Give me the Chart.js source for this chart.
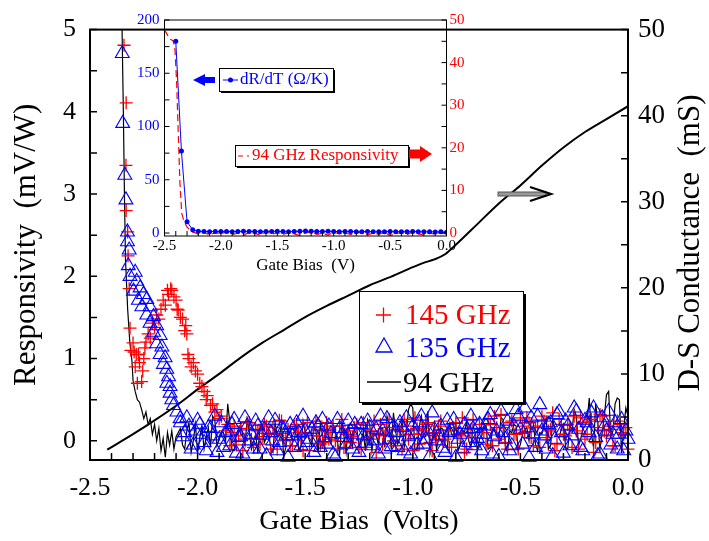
<!DOCTYPE html>
<html>
<head>
<meta charset="utf-8">
<script src="https://cdn.jsdelivr.net/npm/chart.js@4.4.1/dist/chart.umd.min.js"></script>
<style>
  body { margin: 0; background: #fff; }
  #wrap { position: relative; width: 709px; height: 541px; }
  canvas { position: absolute; left: 0; top: 0; }
</style>
</head>
<body>
<div id="wrap">
  <canvas id="mainChart" width="709" height="541"></canvas>
  <canvas id="insetChart" width="709" height="541"></canvas>
</div>
<script>
const red = '#ff0000'
const blue = '#0000ff'

// 145 GHz responsivity, steep part (mV/W)
const bias145 = [-2.342,-2.332,-2.333,-2.332,-2.325,-2.323,-2.318,-2.314,-2.310,-2.300,-2.295,-2.290,-2.285,-2.280,-2.275,-2.270,-2.260,-2.255,-2.250,-2.245,-2.240,-2.230,-2.220,-2.210,-2.200,-2.190,-2.180,-2.170,-2.160,-2.150,-2.140,-2.135,-2.125,-2.120,-2.110,-2.100,-2.095,-2.090,-2.080,-2.070,-2.060,-2.055,-2.050,-2.045,-2.040,-2.030,-2.020,-2.010,-2.000,-1.990,-1.980,-1.970,-1.960,-1.955,-1.940,-1.930,-1.920,-1.910,-1.900,-1.890]
const resp145 = [4.81,4.11,3.35,2.80,2.54,2.25,1.85,1.37,1.10,1.19,1.08,0.90,1.05,0.70,1.05,0.95,0.72,0.85,1.00,1.13,1.20,1.30,1.25,1.43,1.38,1.53,1.48,1.60,1.71,1.65,1.83,1.78,1.85,1.83,1.75,1.71,1.60,1.59,1.50,1.48,1.34,1.40,1.30,1.05,1.00,0.90,0.95,0.85,0.81,0.70,0.66,0.60,0.50,0.55,0.43,0.45,0.35,0.38,0.27,0.30]

// 135 GHz responsivity, steep part
const bias135 = [-2.350,-2.348,-2.338,-2.333,-2.326,-2.326,-2.318,-2.322,-2.314,-2.298,-2.290,-2.283,-2.275,-2.267,-2.259,-2.252,-2.236,-2.236,-2.221,-2.221,-2.205,-2.205,-2.190,-2.190,-2.174,-2.174,-2.166,-2.159,-2.151,-2.143,-2.143,-2.135,-2.128,-2.128,-2.120,-2.112,-2.096,-2.081]
const resp135 = [4.71,3.86,3.23,2.93,2.54,2.42,2.32,2.13,2.00,1.82,2.05,1.94,1.71,1.86,1.63,1.78,1.72,1.53,1.63,1.43,1.51,1.32,1.40,1.18,1.28,1.05,1.14,0.93,1.01,0.87,0.70,0.78,0.66,0.58,0.50,0.43,0.35,0.27]

// 94 GHz responsivity, steep part
const bias94 = [-2.354,-2.351,-2.345,-2.340,-2.335,-2.325,-2.315,-2.305,-2.300,-2.290,-2.280,-2.270,-2.260,-2.250,-2.240,-2.230,-2.220,-2.210,-2.200,-2.190,-2.180,-2.170,-2.160,-2.150,-2.140,-2.130,-2.120,-2.110,-2.100]
const resp94 = [5.30,5.00,4.00,3.00,2.20,1.60,1.20,0.97,0.73,0.60,0.50,0.47,0.38,0.27,0.35,0.20,0.27,0.08,0.20,0.00,0.15,-0.12,0.03,-0.20,0.10,-0.05,0.12,-0.10,0.05]

// flat noisy part, two interleaved bias grids
const noiseBias = [-2.08,-2.06,-2.04,-2.02,-2.00,-1.98,-1.96,-1.94,-1.92,-1.90,
  -1.88,-1.86,-1.84,-1.82,-1.80,-1.78,-1.76,-1.74,-1.72,-1.70,
  -1.68,-1.66,-1.64,-1.62,-1.60,-1.58,-1.56,-1.54,-1.52,-1.50,
  -1.48,-1.46,-1.44,-1.42,-1.40,-1.38,-1.36,-1.34,-1.32,-1.30,
  -1.28,-1.26,-1.24,-1.22,-1.20,-1.18,-1.16,-1.14,-1.12,-1.10,
  -1.08,-1.06,-1.04,-1.02,-1.00,-0.98,-0.96,-0.94,-0.92,-0.90,
  -0.88,-0.86,-0.84,-0.82,-0.80,-0.78,-0.76,-0.74,-0.72,-0.70,
  -0.68,-0.66,-0.64,-0.62,-0.60,-0.58,-0.56,-0.54,-0.52,-0.50,
  -0.48,-0.46,-0.44,-0.42,-0.40,-0.38,-0.36,-0.34,-0.32,-0.30,
  -0.28,-0.26,-0.24,-0.22,-0.20,-0.18,-0.16,-0.14,-0.12,-0.10,
  -0.08,-0.06,-0.04,-0.02,0.00]
const noiseBias2 = [-2.07,-2.05,-2.03,-2.01,-1.99,-1.97,-1.95,-1.93,-1.91,-1.89,
  -1.87,-1.85,-1.83,-1.81,-1.79,-1.77,-1.75,-1.73,-1.71,-1.69,
  -1.67,-1.65,-1.63,-1.61,-1.59,-1.57,-1.55,-1.53,-1.51,-1.49,
  -1.47,-1.45,-1.43,-1.41,-1.39,-1.37,-1.35,-1.33,-1.31,-1.29,
  -1.27,-1.25,-1.23,-1.21,-1.19,-1.17,-1.15,-1.13,-1.11,-1.09,
  -1.07,-1.05,-1.03,-1.01,-0.99,-0.97,-0.95,-0.93,-0.91,-0.89,
  -0.87,-0.85,-0.83,-0.81,-0.79,-0.77,-0.75,-0.73,-0.71,-0.69,
  -0.67,-0.65,-0.63,-0.61,-0.59,-0.57,-0.55,-0.53,-0.51,-0.49,
  -0.47,-0.45,-0.43,-0.41,-0.39,-0.37,-0.35,-0.33,-0.31,-0.29,
  -0.27,-0.25,-0.23,-0.21,-0.19,-0.17,-0.15,-0.13,-0.11,-0.09,
  -0.07,-0.05,-0.03,-0.01]

const noise135 = [0.22,0.10,0.18,-0.05,0.25,0.08,-0.12,0.15,0.30,0.02,
  -0.08,0.12,0.20,-0.15,0.05,0.28,0.00,-0.10,0.18,0.07,
  -0.18,0.10,0.25,-0.02,0.14,-0.20,0.06,0.22,-0.06,0.12,
  0.02,-0.14,0.18,0.26,-0.04,0.09,-0.20,0.15,0.04,0.24,
  -0.10,0.08,0.20,-0.03,0.16,0.00,-0.16,0.12,0.27,-0.07,
  0.10,0.22,-0.12,0.05,0.18,-0.05,0.30,0.02,-0.18,0.14,
  0.06,-0.09,0.25,0.12,-0.20,0.08,0.20,-0.02,0.15,0.03,
  -0.12,0.18,0.32,0.05,-0.19,0.10,0.24,-0.06,0.38,0.14,
  0.40,-0.20,0.08,0.30,0.12,-0.10,0.22,0.02,0.35,-0.15,
  0.18,0.06,0.36,-0.08,0.25,0.10,0.40,-0.18,0.28,0.12,
  -0.05,0.22,0.08,-0.12,0.02]
const noise135b = [0.05,0.28,-0.10,0.12,0.20,-0.02,0.16,0.06,-0.14,0.22,
  0.10,-0.06,0.26,0.04,-0.16,0.18,0.08,0.24,-0.10,0.14,
  0.28,0.00,-0.12,0.16,0.06,0.20,-0.08,0.10,0.30,-0.02,
  0.14,0.22,-0.08,0.04,0.18,-0.16,0.26,0.08,-0.04,0.12,
  0.20,-0.14,0.06,0.24,-0.06,0.14,0.30,-0.10,0.02,0.18,
  -0.08,0.16,0.28,-0.16,0.08,0.22,-0.04,0.12,0.34,0.00,
  0.18,-0.14,0.10,0.26,0.02,-0.10,0.14,0.30,-0.06,0.20,
  0.08,0.26,-0.16,0.12,0.36,0.02,-0.12,0.18,0.30,-0.04,
  0.16,0.28,-0.08,0.44,0.06,0.20,-0.18,0.32,0.10,0.24,
  -0.06,0.40,0.14,-0.12,0.22,0.34,0.04,-0.16,0.18,0.36,
  0.08,-0.10,0.26,0.12]

const noise145 = [null,null,null,null,null,null,null,null,null,null,
  null,0.20,0.10,-0.05,0.15,0.02,0.22,-0.08,0.12,0.05,
  0.18,-0.10,0.08,0.25,0.00,0.14,-0.06,0.20,0.04,0.10,
  -0.12,0.16,0.06,-0.02,0.22,0.10,0.00,0.18,-0.08,0.12,
  0.05,0.20,-0.10,0.14,0.02,0.24,0.08,-0.04,0.16,0.06,
  -0.06,0.12,0.26,0.02,-0.12,0.15,0.08,0.20,-0.02,0.10,
  0.18,0.00,0.12,-0.08,0.22,0.06,-0.14,0.10,0.26,0.04,
  0.14,-0.04,0.20,0.30,0.02,0.16,-0.10,0.24,0.08,0.28,
  0.10,0.22,-0.06,0.18,0.30,0.04,0.14,-0.12,0.26,0.08,
  0.20,-0.08,0.12,0.28,0.02,0.24,-0.14,0.16,0.30,0.06,
  0.14,-0.06,0.20,0.08,-0.10]
const noise145b = [null,null,null,null,null,null,null,null,null,null,
  0.12,-0.06,0.18,0.06,-0.12,0.22,0.02,0.14,-0.04,0.20,
  0.08,0.16,-0.10,0.24,0.04,-0.06,0.18,0.10,-0.12,0.22,
  0.06,0.24,-0.04,0.12,0.02,0.18,-0.10,0.26,0.08,-0.02,
  0.16,-0.08,0.22,0.04,0.12,-0.14,0.20,0.06,0.26,0.00,
  0.14,-0.10,0.18,0.08,0.28,-0.04,0.12,0.22,-0.12,0.06,
  0.24,0.02,-0.08,0.16,0.08,0.28,-0.10,0.14,0.04,0.20,
  0.10,0.26,-0.06,0.16,0.32,-0.02,0.22,0.08,-0.10,0.18,
  0.28,0.04,0.16,-0.08,0.24,0.12,0.34,-0.04,0.20,0.06,
  0.14,0.30,-0.10,0.22,0.08,0.26,-0.02,0.32,0.12,0.18,
  -0.06,0.24,0.10,0.16]

const noise94 = [0.15,-0.10,0.22,0.00,-0.15,0.18,0.05,-0.08,0.25,0.02,
  0.10,0.45,-0.12,0.08,0.20,-0.05,0.12,0.00,-0.15,0.18,
  0.04,-0.10,0.22,0.06,-0.18,0.14,0.02,0.20,-0.08,0.10,
  0.00,0.16,-0.14,0.08,0.24,-0.04,0.12,-0.16,0.06,0.18,
  -0.06,0.14,0.02,-0.12,0.20,0.08,-0.04,0.16,0.30,-0.10,
  0.12,0.04,-0.08,0.38,0.40,-0.10,0.30,0.05,-0.15,0.20,
  0.02,0.14,-0.10,0.08,0.22,-0.06,0.10,0.00,0.18,-0.12,
  0.06,0.20,-0.08,0.12,0.02,0.26,-0.14,0.10,0.18,-0.04,
  0.14,0.00,0.22,-0.12,0.08,0.28,-0.06,0.16,0.04,0.20,
  -0.10,0.12,0.30,0.02,0.18,0.52,-0.08,0.20,0.10,0.56,
  0.05,0.45,0.50,0.15,0.30]
const noise94b = [-0.05,0.12,-0.14,0.20,0.04,-0.10,0.16,0.30,-0.06,0.10,
  0.00,0.22,-0.12,0.14,0.06,0.25,-0.10,0.08,0.18,-0.02,
  0.12,-0.14,0.06,0.20,-0.08,0.16,0.02,-0.12,0.24,0.08,
  -0.06,0.12,0.20,-0.10,0.04,0.16,-0.02,0.22,-0.14,0.10,
  0.18,-0.06,0.10,0.26,-0.12,0.06,0.14,-0.08,0.20,0.34,
  -0.04,0.24,0.10,0.45,-0.12,0.18,0.06,0.36,0.02,-0.10,
  0.16,-0.04,0.20,0.06,-0.12,0.14,0.24,-0.08,0.10,0.02,
  0.18,-0.10,0.14,0.06,0.28,-0.06,0.12,0.20,-0.12,0.08,
  0.16,0.24,-0.04,0.10,0.20,-0.10,0.26,0.06,0.14,-0.08,
  0.20,0.38,-0.06,0.14,0.24,0.08,0.45,-0.10,0.30,0.60,
  0.12,0.52,-0.15,0.40]

// D-S conductance (mS)
const condBias = [-2.42,-2.3,-2.2,-2.1,-2.0,-1.9,-1.8,-1.7,-1.6,-1.5,-1.4,-1.3,-1.2,-1.1,-1.0,-0.95,-0.9,-0.85,-0.8,-0.7,-0.6,-0.5,-0.4,-0.3,-0.2,-0.1,0.0]
const conductance = [1.2,3.0,4.6,6.3,8.2,10.0,11.9,13.6,15.1,16.6,17.9,19.1,20.3,21.3,22.4,22.9,23.3,23.9,25.0,27.4,29.8,31.9,34.2,36.3,38.1,39.6,41.1]

// inset: dR/dT (Ohm/K)
const dRdTBias = [-2.40,-2.35,-2.30,-2.25,-2.20,-2.15,-2.10,-2.05,-2.00,-1.95,-1.90,-1.85,-1.80,-1.75,-1.70,-1.65,-1.60,-1.55,-1.50,-1.45,-1.40,-1.35,-1.30,-1.25,-1.20,-1.15,-1.10,-1.05,-1.00,-0.95,-0.90,-0.85,-0.80,-0.75,-0.70,-0.65,-0.60,-0.55,-0.50,-0.45,-0.40,-0.35,-0.30,-0.25,-0.20,-0.15,-0.10,-0.05,0.00]
const dRdT = [180,77,10.5,3.0,1.6,1.5,1.3,1.5,1.4,1.5,1.3,1.5,1.6,1.4,1.5,1.3,1.4,1.5,1.6,1.4,1.2,1.5,1.6,1.8,1.7,1.5,1.4,1.6,1.5,1.3,1.4,1.5,1.2,1.3,1.4,1.2,1.1,1.3,1.4,1.2,1.3,1.2,1.4,1.3,1.1,1.2,1.0,1.1,0.8]

// inset: 94 GHz responsivity (right inset axis)
const insetBias = [-2.500,-2.480,-2.466,-2.450,-2.436,-2.422,-2.407,-2.392,-2.378,-2.363,-2.347,-2.332,-2.318,-2.300,-2.274,-2.250,-2.230,
  -2.20,-2.15,-2.10,-2.05,-2.00,-1.95,-1.90,-1.85,-1.80,-1.75,-1.70,-1.65,-1.60,-1.55,-1.50,-1.45,-1.40,-1.35,-1.30,-1.25,-1.20,-1.15,-1.10,-1.05,-1.00,-0.95,-0.90,-0.85,-0.80,-0.75,-0.70,-0.65,-0.60,-0.55,-0.50,-0.45,-0.40,-0.35,-0.30,-0.25,-0.20,-0.15,-0.10,-0.05,0.00]
const insetResp = [47.7,46.8,46.1,45.5,45.3,45.1,43.0,35.1,23.4,11.7,4.6,3.2,2.3,1.4,0.7,0.2,0.1,
  -0.3,0.2,-0.5,0.1,-0.2,0.3,-0.4,0.0,-0.6,0.2,-0.1,-0.5,0.3,-0.3,0.1,-0.4,0.2,-0.2,-0.6,0.0,
  0.3,-0.3,-0.1,-0.5,0.2,-0.2,0.1,-0.4,-0.1,0.3,-0.5,0.0,-0.3,0.2,-0.6,-0.1,0.1,-0.4,0.3,-0.2,
  -0.5,0.0,-0.3,0.2,-0.1]

function toPoints(xs, ys) {
    const pts = []
    xs.forEach((x, i) => {
        if (ys[i] !== null) pts.push({ x: x, y: ys[i] })
    })
    return pts
}

function byBias(a, b) {
    return a.x - b.x
}

function inwardTicks(ctx, scale, step, len, area) {
    const first = Math.ceil(scale.min / step - 1e-6)
    const last = Math.floor(scale.max / step + 1e-6)
    ctx.beginPath()
    for (let i = first; i <= last; i++) {
        const p = scale.getPixelForValue(i * step)
        if (scale.position === 'bottom') {
            ctx.moveTo(p, area.bottom); ctx.lineTo(p, area.bottom - len)
        } else if (scale.position === 'left') {
            ctx.moveTo(area.left, p); ctx.lineTo(area.left + len, p)
        } else {
            ctx.moveTo(area.right, p); ctx.lineTo(area.right - len, p)
        }
    }
    ctx.stroke()
}

function shadowBox(ctx, x, y, w, h, off) {
    ctx.fillStyle = '#000'
    ctx.fillRect(x + off, y + off, w, h)
    ctx.fillStyle = '#fff'
    ctx.fillRect(x, y, w, h)
    ctx.strokeStyle = '#000'
    ctx.lineWidth = 1
    ctx.strokeRect(x + 0.5, y + 0.5, w, h)
}

Chart.defaults.font.family = '"Liberation Serif", "Times New Roman", serif'
Chart.defaults.color = '#000'

const mainDecor = {
    id: 'mainDecor',
    afterDraw(chart) {
        const { ctx, chartArea: a, scales } = chart
        ctx.save()
        ctx.strokeStyle = '#000'
        ctx.lineWidth = 2
        ctx.strokeRect(a.left, a.top, a.right - a.left, a.bottom - a.top)
        ctx.lineWidth = 1.5
        inwardTicks(ctx, scales.x, 0.1, 7, a)
        inwardTicks(ctx, scales.y, 0.5, 7, a)
        inwardTicks(ctx, scales.y2, 5, 7, a)

        // right axis title, reads bottom to top
        ctx.save()
        ctx.translate(691, 243)
        ctx.rotate(-Math.PI / 2)
        ctx.font = '31px "Liberation Serif"'
        ctx.textAlign = 'center'
        ctx.textBaseline = 'middle'
        ctx.fillStyle = '#000'
        ctx.fillText('D-S Conductance  (mS)', 0, 0)
        ctx.restore()

        // arrow pointing to the conductance axis
        ctx.fillStyle = '#999'
        ctx.strokeStyle = '#555'
        ctx.lineWidth = 1
        ctx.fillRect(498, 192, 48, 4)
        ctx.strokeRect(498, 192, 48, 4)
        ctx.strokeStyle = '#000'
        ctx.lineWidth = 2.2
        ctx.beginPath()
        ctx.moveTo(530, 187); ctx.lineTo(551, 194); ctx.lineTo(530, 201)
        ctx.stroke()

        // legend
        shadowBox(ctx, 359, 291, 164, 111, 3)
        ctx.lineWidth = 1.3
        ctx.strokeStyle = red
        ctx.beginPath()
        ctx.moveTo(376, 315); ctx.lineTo(391, 315)
        ctx.moveTo(383.5, 307.5); ctx.lineTo(383.5, 322.5)
        ctx.stroke()
        ctx.strokeStyle = blue
        ctx.beginPath()
        ctx.moveTo(384, 338); ctx.lineTo(392, 352); ctx.lineTo(376, 352); ctx.closePath()
        ctx.stroke()
        ctx.strokeStyle = '#000'
        ctx.lineWidth = 1.5
        ctx.beginPath()
        ctx.moveTo(367, 382); ctx.lineTo(401, 382)
        ctx.stroke()
        ctx.font = '29px "Liberation Serif"'
        ctx.textAlign = 'left'
        ctx.textBaseline = 'middle'
        ctx.fillStyle = red
        ctx.fillText('145 GHz', 405, 316)
        ctx.fillStyle = blue
        ctx.fillText('135 GHz', 405, 349)
        ctx.fillStyle = '#000'
        ctx.fillText('94 GHz', 403, 384)
        ctx.restore()
    }
}

const insetDecor = {
    id: 'insetDecor',
    afterDraw(chart) {
        const { ctx, chartArea: a, scales } = chart
        ctx.save()
        ctx.strokeStyle = '#000'
        ctx.lineWidth = 1
        ctx.strokeRect(a.left, a.top, a.right - a.left, a.bottom - a.top)
        inwardTicks(ctx, scales.ix, 0.1, 5, a)
        inwardTicks(ctx, scales.iy, 25, 5, a)
        inwardTicks(ctx, scales.iy2, 5, 5, a)

        // dR/dT legend with arrow to the left axis
        shadowBox(ctx, 219, 68, 114, 23, 2)
        ctx.strokeStyle = blue
        ctx.lineWidth = 1
        ctx.beginPath()
        ctx.moveTo(223, 80); ctx.lineTo(238, 80)
        ctx.stroke()
        ctx.fillStyle = blue
        ctx.beginPath()
        ctx.arc(230.5, 80, 2.5, 0, Math.PI * 2)
        ctx.fill()
        ctx.font = '17px "Liberation Serif"'
        ctx.textAlign = 'left'
        ctx.textBaseline = 'middle'
        ctx.fillText('dR/dT (\u03a9/K)', 240, 80)
        ctx.beginPath()
        ctx.moveTo(193, 80); ctx.lineTo(205, 74); ctx.lineTo(205, 77); ctx.lineTo(215, 77)
        ctx.lineTo(215, 83); ctx.lineTo(205, 83); ctx.lineTo(205, 86); ctx.closePath()
        ctx.fill()

        // 94 GHz legend with arrow to the right axis
        shadowBox(ctx, 235, 145, 173, 21, 2)
        ctx.strokeStyle = red
        ctx.lineWidth = 1.2
        ctx.setLineDash([5, 4])
        ctx.beginPath()
        ctx.moveTo(238, 156); ctx.lineTo(249, 156)
        ctx.stroke()
        ctx.setLineDash([])
        ctx.fillStyle = red
        ctx.fillText('94 GHz Responsivity', 252, 156)
        ctx.beginPath()
        ctx.moveTo(432, 154); ctx.lineTo(420, 146); ctx.lineTo(420, 149.5); ctx.lineTo(409, 149.5)
        ctx.lineTo(409, 158.5); ctx.lineTo(420, 158.5); ctx.lineTo(420, 162); ctx.closePath()
        ctx.fill()
        ctx.restore()
    }
}

new Chart(document.getElementById('mainChart'), {
    type: 'scatter',
    data: {
        datasets: [
            {
                label: '135 GHz',
                data: toPoints(bias135, resp135).concat(toPoints(noiseBias, noise135), toPoints(noiseBias2, noise135b)),
                yAxisID: 'y',
                pointStyle: 'triangle',
                pointRadius: 8,
                pointBorderWidth: 1.1,
                pointBorderColor: blue,
                pointBackgroundColor: 'rgba(0,0,0,0)',
                clip: 8,
                order: 0,
            },
            {
                label: '145 GHz',
                data: toPoints(bias145, resp145).concat(toPoints(noiseBias, noise145), toPoints(noiseBias2, noise145b)),
                yAxisID: 'y',
                pointStyle: 'cross',
                pointRadius: 6.5,
                pointBorderWidth: 1.3,
                pointBorderColor: red,
                pointBackgroundColor: red,
                clip: 8,
                order: 1,
            },
            {
                label: '94 GHz',
                data: toPoints(bias94, resp94).concat(toPoints(noiseBias, noise94), toPoints(noiseBias2, noise94b)).sort(byBias),
                yAxisID: 'y',
                showLine: true,
                pointRadius: 0,
                borderColor: '#000',
                borderWidth: 1.2,
                order: 2,
            },
            {
                label: 'D-S Conductance',
                data: toPoints(condBias, conductance),
                yAxisID: 'y2',
                showLine: true,
                pointRadius: 0,
                borderColor: '#000',
                borderWidth: 2,
                cubicInterpolationMode: 'monotone',
                order: 3,
            },
        ],
    },
    options: {
        responsive: false,
        animation: false,
        devicePixelRatio: 1,
        layout: { padding: { top: 10, left: 0, right: 0, bottom: 0 } },
        plugins: { legend: { display: false }, tooltip: { enabled: false } },
        scales: {
            x: {
                type: 'linear',
                position: 'bottom',
                min: -2.5,
                max: 0,
                grid: { display: false, drawTicks: false },
                border: { display: false },
                ticks: { stepSize: 0.5, padding: 13, font: { size: 26 }, maxRotation: 0, callback: (v) => v.toFixed(1) },
                title: { display: true, text: 'Gate Bias  (Volts)', font: { size: 28 }, padding: { top: 0, bottom: 3 } },
                afterFit: (s) => { s.height = 81 },
            },
            y: {
                position: 'left',
                min: -0.233,
                max: 5,
                grid: { display: false, drawTicks: false },
                border: { display: false },
                ticks: { stepSize: 1, includeBounds: false, padding: 14, font: { size: 26 } },
                title: { display: true, text: 'Responsivity  (mV/W)', font: { size: 31 }, padding: { top: 8, bottom: 0 } },
                afterFit: (s) => { s.width = 90 },
            },
            y2: {
                position: 'right',
                min: 0,
                max: 50,
                grid: { display: false, drawTicks: false },
                border: { display: false },
                ticks: { stepSize: 10, padding: 10, font: { size: 27 } },
                afterFit: (s) => { s.width = 81 },
            },
        },
    },
    plugins: [mainDecor],
})

new Chart(document.getElementById('insetChart'), {
    type: 'scatter',
    data: {
        datasets: [
            {
                label: 'dR/dT',
                data: toPoints(dRdTBias, dRdT),
                xAxisID: 'ix',
                yAxisID: 'iy',
                showLine: true,
                borderColor: blue,
                borderWidth: 1,
                pointRadius: 2.5,
                pointBorderWidth: 0,
                pointBackgroundColor: blue,
                order: 0,
            },
            {
                label: '94 GHz Responsivity',
                data: toPoints(insetBias, insetResp),
                xAxisID: 'ix',
                yAxisID: 'iy2',
                showLine: true,
                borderColor: red,
                borderWidth: 1.2,
                borderDash: [7, 4],
                pointRadius: 0,
                order: 1,
            },
        ],
    },
    options: {
        responsive: false,
        animation: false,
        devicePixelRatio: 1,
        layout: { padding: { top: 20, left: 110, right: 219, bottom: 256 } },
        plugins: { legend: { display: false }, tooltip: { enabled: false } },
        scales: {
            ix: {
                type: 'linear',
                position: 'bottom',
                min: -2.5,
                max: 0,
                grid: { display: false, drawTicks: false },
                border: { display: false },
                ticks: { stepSize: 0.5, padding: 1, font: { size: 15 }, maxRotation: 0, callback: (v) => v.toFixed(1) },
                title: { display: true, text: 'Gate Bias  (V)', font: { size: 17 }, padding: { top: 0, bottom: 9 } },
                afterFit: (s) => { s.height = 49 },
            },
            iy: {
                position: 'left',
                min: -2.8,
                max: 200,
                grid: { display: false, drawTicks: false },
                border: { display: false },
                ticks: { stepSize: 50, includeBounds: false, padding: 5, color: blue, font: { size: 15 } },
                afterFit: (s) => { s.width = 54.5 },
            },
            iy2: {
                position: 'right',
                min: -0.7,
                max: 50,
                grid: { display: false, drawTicks: false },
                border: { display: false },
                ticks: { stepSize: 10, includeBounds: false, padding: 3, color: red, font: { size: 15 } },
                afterFit: (s) => { s.width = 43.5 },
            },
        },
    },
    plugins: [insetDecor],
})
</script>
</body>
</html>
